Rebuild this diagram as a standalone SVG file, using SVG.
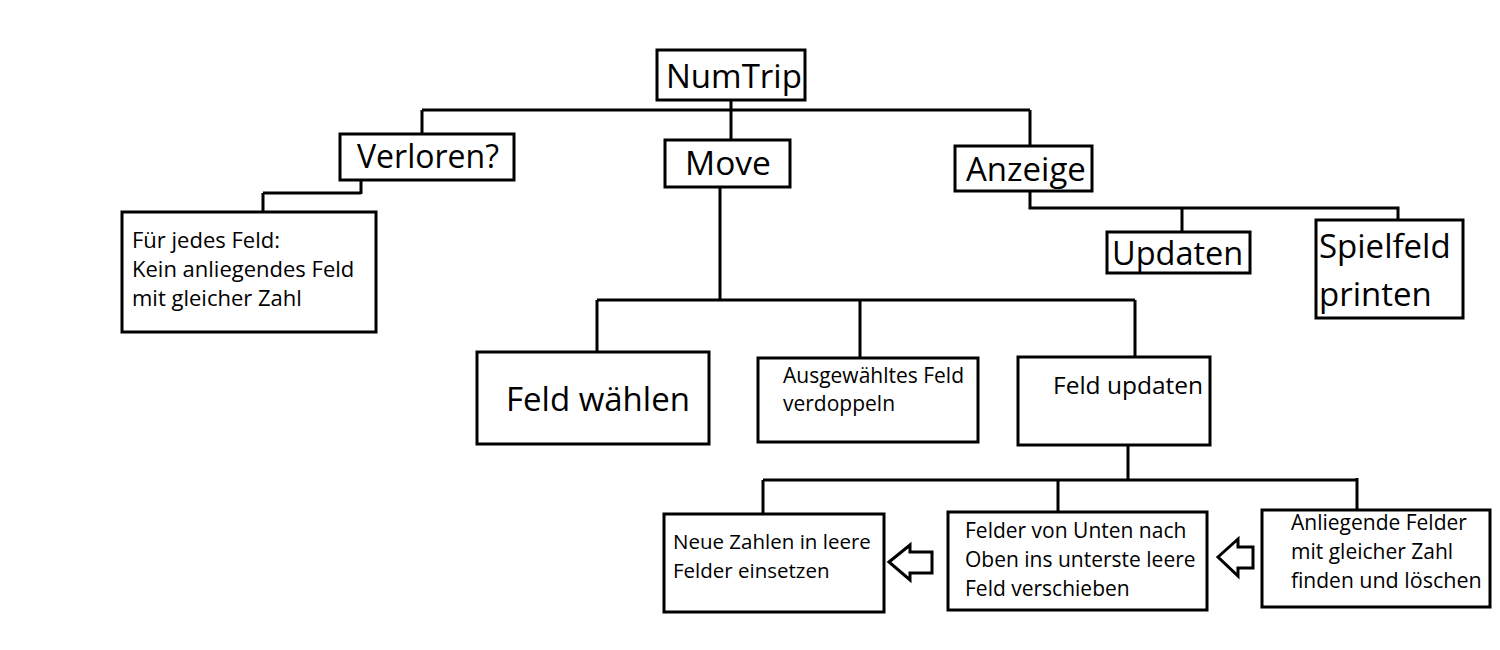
<svg xmlns="http://www.w3.org/2000/svg" width="1500" height="650" viewBox="0 0 1500 650">
<style>
.box{fill:#fff;stroke:#000;stroke-width:3}
.ln{fill:none;stroke:#000;stroke-width:3}
text{font-family:"Open Sans","Noto Sans",sans-serif;fill:#000}
.big{font-size:33px}
</style>
<rect width="1500" height="650" fill="#fff"/>
<g id="connectors">
<path class="ln" d="M731 100V140M422 110H1030M422 110V134M1030 110V146"/>
<path class="ln" d="M361 180V194M263 193H361M263 193V212"/>
<path class="ln" d="M720 187V300M597 300H1135M597 300V352M860 300V358M1135 300V357"/>
<path class="ln" d="M1030 191V208H1398V220M1182 208V232"/>
<path class="ln" d="M1128 445V480M763 480H1357M763 480V514M1058 480V512M1357 478V510"/>
<path class="ln" d="M889 562L910 545V552H932V573H910V580Z"/>
<path class="ln" d="M1218 557L1238 539V547H1253V568H1238V576Z"/>
</g>
<g id="numtrip"><rect class="box" x="657" y="50" width="148" height="50"/><text x="666" y="88" font-size="33">NumTrip</text></g>
<g id="verloren"><rect class="box" x="340" y="134" width="174" height="46"/><text x="357" y="168" font-size="32">Verloren?</text></g>
<g id="move"><rect class="box" x="665" y="140" width="125" height="47"/><text x="685" y="175" font-size="33.5">Move</text></g>
<g id="anzeige"><rect class="box" x="955" y="146" width="137" height="45"/><text class="big" x="966" y="181">Anzeige</text></g>
<g id="fuerjedes"><rect class="box" x="122" y="212" width="254" height="120"/>
<g font-size="22"><text x="132" y="248">Für jedes Feld:</text>
<text x="132" y="277">Kein anliegendes Feld</text>
<text x="132" y="306">mit gleicher Zahl</text></g></g>
<g id="updaten"><rect class="box" x="1107" y="232" width="143" height="41"/><text x="1112" y="265" font-size="32.5">Updaten</text></g>
<g id="spielfeld"><rect class="box" x="1316" y="220" width="147" height="98"/><text class="big" x="1319" y="258">Spielfeld</text><text class="big" x="1319" y="306">printen</text></g>
<g id="feldwaehlen"><rect class="box" x="477" y="352" width="232" height="92"/><text class="big" x="506" y="411">Feld wählen</text></g>
<g id="ausgewaehltes"><rect class="box" x="758" y="358" width="220" height="84"/><g font-size="21"><text x="783" y="383">Ausgewähltes Feld</text><text x="783" y="411">verdoppeln</text></g></g>
<g id="feldupdaten"><rect class="box" x="1018" y="357" width="192" height="88"/><text x="1053" y="394" font-size="24.5">Feld updaten</text></g>
<g id="neuezahlen"><rect class="box" x="664" y="514" width="220" height="98"/><g font-size="20.5"><text x="673" y="549">Neue Zahlen in leere</text><text x="673" y="578">Felder einsetzen</text></g></g>
<g id="feldervon"><rect class="box" x="948" y="512" width="259" height="98"/><g font-size="21"><text x="965" y="538">Felder von Unten nach</text><text x="965" y="567">Oben ins unterste leere</text><text x="965" y="596">Feld verschieben</text></g></g>
<g id="anliegende"><rect class="box" x="1262" y="510" width="228" height="97"/><g font-size="21"><text x="1291" y="530">Anliegende Felder</text><text x="1291" y="559">mit gleicher Zahl</text><text x="1291" y="588">finden <tspan font-size="21.5">und löschen</tspan></text></g></g>
</svg>
